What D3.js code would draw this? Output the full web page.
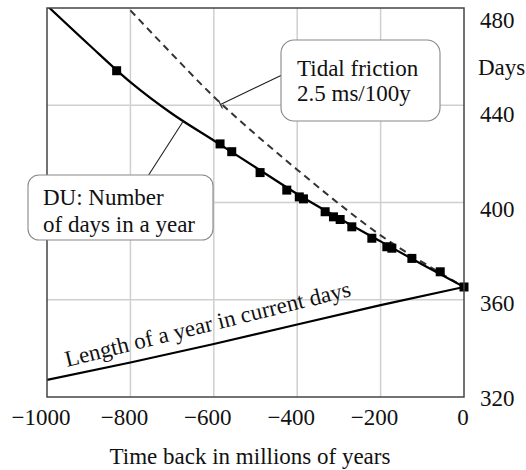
<!DOCTYPE html>
<html>
<head>
<meta charset="utf-8">
<script src="https://cdn.jsdelivr.net/npm/d3@7"></script>
<style>
  html, body { margin: 0; padding: 0; background: #fff; }
  svg { display: block; }
  text { font-family: "Liberation Serif", "Times New Roman", serif; fill: #111; }
</style>
</head>
<body>
<svg id="chart" width="526" height="470"></svg>
<script>
// ---- data ----
const xTicks = [-1000, -800, -600, -400, -200, 0];
const yTicks = [320, 360, 400, 440, 480];
const duCurveTime = [-1000, -900, -800, -700, -600, -500, -400, -300, -200, -100, 0];
const duCurveDays = [481, 465, 449.5, 436.5, 425.5, 414.5, 403.5, 393.5, 384, 374.5, 365.25];
const duPointTime = [-833, -585, -557, -489, -425, -395, -385, -333, -313, -297, -269, -221, -185, -173, -125, -57, 0];
const duPointDays = [454.2, 424.1, 420.9, 412.3, 405.1, 402.3, 401.5, 396.2, 394.1, 393, 390, 385.3, 381.8, 381.2, 377, 371.5, 365.25];
const tidalTime = [-800, -700, -600, -500, -400, -300, -200, -100, 0];
const tidalDays = [479, 461, 443.5, 428, 413.5, 399.5, 386.5, 375.5, 365.25];
const yearTime = [-1000, -800, -600, -400, -200, 0];
const yearDays = [327, 334.2, 341.8, 349.8, 357.8, 365.25];

const FS = 23;
const svg = d3.select("#chart");
const L = 47, R = 464, T = 8, B = 397;
const x = d3.scaleLinear().domain([-1000, 0]).range([L, R]);
const y = d3.scaleLinear().domain([320, 480]).range([B, T]);
const yLab = d3.scaleLinear().domain([320, 480]).range([398, 20]);

// grid
const grid = svg.append("g");
grid.selectAll(".gx").data(xTicks.slice(1, -1)).join("line")
  .attr("x1", d => x(d)).attr("x2", d => x(d)).attr("y1", T).attr("y2", B)
  .attr("stroke", "#cfcfcf").attr("stroke-width", 1.5);
grid.selectAll(".gy").data(yTicks.slice(1, -1)).join("line")
  .attr("x1", L).attr("x2", R).attr("y1", d => y(d)).attr("y2", d => y(d))
  .attr("stroke", "#cfcfcf").attr("stroke-width", 1.5);

// clip
svg.append("clipPath").attr("id", "clip").append("rect")
  .attr("x", L).attr("y", T).attr("width", R - L).attr("height", B - T);
const plot = svg.append("g").attr("clip-path", "url(#clip)");

const smooth = d3.line().x(d => x(d[0])).y(d => y(d[1])).curve(d3.curveMonotoneX);
const straight = d3.line().x(d => x(d[0])).y(d => y(d[1]));

plot.append("path").datum(d3.zip(yearTime, yearDays)).attr("d", straight)
  .attr("fill", "none").attr("stroke", "#000").attr("stroke-width", 2.2);
plot.append("path").datum(d3.zip(tidalTime, tidalDays)).attr("d", smooth)
  .attr("fill", "none").attr("stroke", "#333").attr("stroke-width", 2)
  .attr("stroke-dasharray", "7,5");
plot.append("path").datum(d3.zip(duCurveTime, duCurveDays)).attr("d", smooth)
  .attr("fill", "none").attr("stroke", "#000").attr("stroke-width", 2.2);

// markers
const ms = 9;
svg.append("g").selectAll("rect").data(d3.zip(duPointTime, duPointDays)).join("rect")
  .attr("x", d => x(d[0]) - ms / 2).attr("y", d => y(d[1]) - ms / 2)
  .attr("width", ms).attr("height", ms).attr("fill", "#000");

// frame
svg.append("rect").attr("x", L).attr("y", T).attr("width", R - L).attr("height", B - T)
  .attr("fill", "none").attr("stroke", "#444").attr("stroke-width", 1.5);

// axis labels
svg.append("g").selectAll("text").data(xTicks).join("text")
  .attr("x", d => x(d) - (d < 0 ? 6 : 1)).attr("y", 417).attr("dy", "0.33em")
  .attr("text-anchor", "middle").attr("font-size", FS)
  .text(d => d < 0 ? "\u2212" + Math.abs(d) : d);
svg.append("g").selectAll("text").data(yTicks).join("text")
  .attr("x", 480).attr("y", d => yLab(d)).attr("dy", "0.33em")
  .attr("font-size", FS).text(d => d);
svg.append("text").attr("x", 478).attr("y", 67).attr("dy", "0.33em")
  .attr("font-size", FS).text("Days");
svg.append("text").attr("x", 250).attr("y", 464).attr("text-anchor", "middle")
  .attr("font-size", FS).text("Time back in millions of years");

// line label
svg.append("text").attr("transform", "translate(67,367) rotate(-14)")
  .attr("font-size", FS).text("Length of a year in current days");

// callouts
const duAnchor = [-673, 433.5];
const tidalAnchor = [-584, 440.3];
const ann = svg.append("g");
ann.append("line").attr("x1", 148).attr("y1", 176)
  .attr("x2", x(duAnchor[0])).attr("y2", y(duAnchor[1]))
  .attr("stroke", "#222").attr("stroke-width", 1.1);
const tx = x(tidalAnchor[0]), ty = y(tidalAnchor[1]);
ann.append("line").attr("x1", 282).attr("y1", 75).attr("x2", tx).attr("y2", ty)
  .attr("stroke", "#222").attr("stroke-width", 1.1);
{
  const dx = 282 - tx, dy = 75 - ty, len = Math.hypot(dx, dy);
  const px = -dy / len * 4.5, py = dx / len * 4.5;
  ann.append("line").attr("x1", tx - px).attr("y1", ty - py).attr("x2", tx + px).attr("y2", ty + py)
    .attr("stroke", "#222").attr("stroke-width", 1.1);
}
ann.append("rect").attr("x", 28).attr("y", 175).attr("width", 185).attr("height", 65)
  .attr("rx", 11).attr("fill", "#fff").attr("stroke", "#888").attr("stroke-width", 1.1);
ann.append("text").attr("x", 43).attr("y", 205).attr("font-size", FS).text("DU: Number");
ann.append("text").attr("x", 43).attr("y", 232).attr("font-size", FS).text("of days in a year");
ann.append("rect").attr("x", 281).attr("y", 40).attr("width", 159).attr("height", 81)
  .attr("rx", 13).attr("fill", "#fff").attr("stroke", "#888").attr("stroke-width", 1.1);
ann.append("text").attr("x", 297).attr("y", 76).attr("font-size", FS).text("Tidal friction");
ann.append("text").attr("x", 297).attr("y", 101).attr("font-size", FS).text("2.5 ms/100y");
</script>
</body>
</html>
